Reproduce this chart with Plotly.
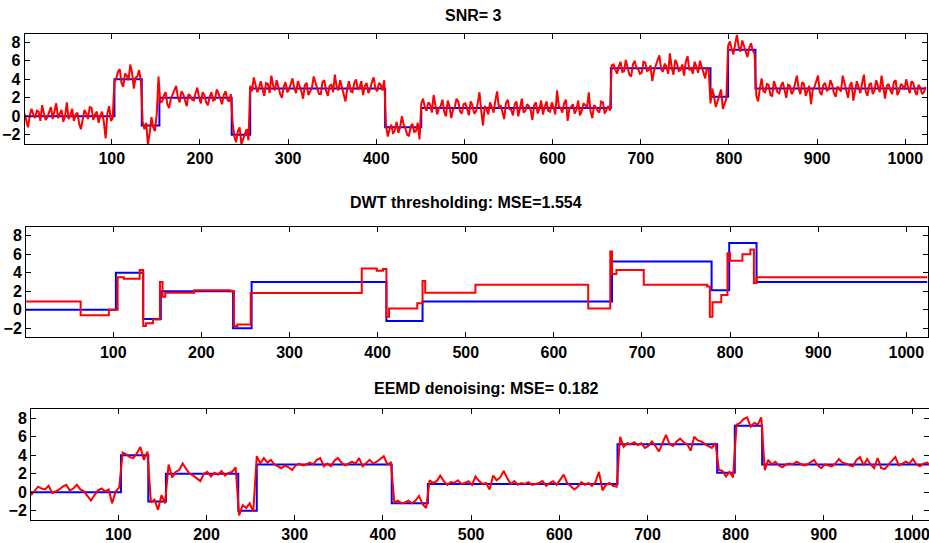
import plotly.graph_objects as go

# ---------------- data ----------------
# true (blocks) signal: start index of each constant level, and its level
blocks_x = [1, 103, 134, 154, 236, 257, 410, 451, 666, 779, 799, 830, 1024]
blocks_y = [0, 4, -1, 2, -2, 3, -1.2, 0.9, 5.2, 2.1, 7.2, 3.0, 3.0]

# sample positions: noisy curve every 2nd sample, EEMD curve every 4th sample
noisy_x = list(range(1, 1024, 2))
eemd_x = list(range(1, 1024, 4))

# noisy observation, SNR = 3
noisy_y = [
    # level 0
    0.3, -0.4, -1.2, 0.1, 0.8, 0.2, -0.2, 0.6, 0.5, -0.5, 1.2, 0.3, -0.4, -0.1, 0.6, 1.0,
    -0.3, 0.4, 1.4, -0.2, 0.2, 0.7, -0.6, 0.0, 1.5, -0.3, 0.1, 0.8, -0.5, 0.2, 0.4, -0.8,
    -1.4, -0.1, 0.7, 0.3, -0.3, 1.0, 0.9, -0.4, 0.2, 0.5, -0.7, 0.1, 0.5, -0.6, -2.4, 0.3,
    1.1, -0.5, -0.2, 3.7,
    # level 4
    4.1, 4.8, 5.1, 3.6, 3.2, 4.6, 4.4, 3.9, 5.6, 4.7, 3.0, 4.2, 4.3, 5.0, 3.8, -0.6,
    # level -1
    -1.4, -0.7, -3.1, -1.8, -0.1, -1.2, -1.6, 0.3, 4.3, 1.5,
    # level 2
    1.6, 2.2, 2.6, 1.3, 0.9, 1.9, 2.3, 2.8, 3.3, 2.0, 1.5, 2.7, 2.4, 1.6, 1.1, 2.4, 2.2, 1.8,
    1.7, 2.5, 3.1, 2.0, 1.4, 2.6, 2.3, 1.5, 1.2, 2.1, 2.6, 1.7, 1.8, 2.9, 2.5, 1.9, 1.3, 2.3,
    2.7, 1.8, 1.6, 2.4,
    # level -2
    -0.6, -2.2, -2.8, -1.6, -1.2, -3.0, -2.5, -1.8, -1.4, -2.6,
    # level 3
    3.3, 2.7, 4.2, 3.4, 2.6, 3.1, 3.8, 2.9, 2.2, 3.6, 3.5, 2.5, 4.4, 3.3, 2.8, 3.9, 3.1, 2.4,
    2.0, 3.2, 3.7, 2.6, 2.9, 3.5, 4.1, 3.0, 2.5, 3.8, 3.3, 2.7, 1.9, 3.4, 3.6, 2.3, 2.7, 3.1,
    4.3, 3.5, 3.0, 2.4, 2.4, 3.7, 3.9, 2.8, 2.2, 3.3, 3.4, 2.6, 4.5, 3.2, 2.8, 3.9, 3.2, 2.5,
    1.6, 3.0, 3.8, 2.7, 2.6, 3.6, 4.0, 2.9, 3.1, 3.8, 2.3, 3.3, 3.6, 2.5, 2.9, 3.7, 4.2, 3.0,
    2.7, 3.6, 3.4, 2.8, 3.9, -1.0,
    # level -1.2
    -2.2, -1.4, -0.9, -1.9, -1.5, -0.6, -1.8, -1.2, 0.0, -0.9, -1.3, -2.0, -2.1, -1.1, -0.8,
    -1.7, -1.6, -0.7, -2.5, 1.4,
    # level 0.9
    1.9, 1.0, 0.6, 1.5, 1.3, 0.4, 2.3, 1.2, 0.2, 0.9, 1.1, 1.8, 0.5, 0.0, 1.7, 1.1, -0.2, 0.7,
    1.0, 1.9, 1.6, 0.5, 0.3, 1.3, 1.4, 0.8, 0.1, 1.6, 1.2, 0.3, 0.5, 1.4, 2.6, 0.6, -1.0, 1.1,
    0.8, 0.2, 1.5, 1.0, 0.4, 1.7, 2.7, 0.9, 1.2, 0.5, -0.3, 1.4, 1.8, 0.8, 0.7, 0.1, 1.3, 1.6,
    0.0, 0.9, 1.9, 0.4, 0.6, 1.3, 1.1, 0.7, -0.4, 1.2, 1.5, 0.3, 0.8, 1.7, 0.2, 1.0, 1.6, 0.6,
    0.5, 1.5, 1.0, 0.2, 2.8, 1.1, 0.9, 0.4, 1.4, 1.8, -0.5, 0.8, 1.0, 1.3, 0.3, 0.7, 1.7, 0.1,
    0.6, 1.4, 1.2, 0.9, 2.6, 0.5, -0.2, 1.2, 1.0, 0.6, 0.4, 1.6, 1.5, 0.3, 0.7, 1.1, 0.6, 5.5,
    # level 5.2
    5.6, 5.0, 4.6, 5.4, 5.9, 4.8, 4.9, 6.1, 5.3, 4.5, 4.3, 5.6, 6.0, 5.2, 5.1, 4.6, 4.7, 5.9,
    5.8, 4.9, 5.0, 5.5, 3.8, 4.9, 5.5, 6.0, 6.6, 5.1, 4.8, 5.7, 5.4, 4.6, 6.8, 5.3, 4.5, 6.1,
    5.7, 4.9, 5.0, 5.6, 4.4, 5.9, 6.5, 5.0, 5.2, 4.6, 5.9, 5.4, 4.7, 6.0, 5.4, 4.8, 4.1, 5.3,
    5.0, 1.4,
    # level 2.1
    3.0, 2.2, 1.0, 1.6, 2.4, 2.9, 0.8, 1.5, 1.9, 7.6,
    # level 7.2
    8.1, 7.3, 6.7, 7.8, 8.8, 7.5, 7.0, 8.2, 7.6, 6.9, 6.4, 7.4, 7.9, 7.1, 6.8, 2.2,
    # level 3
    1.6, 3.0, 4.1, 2.7, 2.6, 3.5, 3.4, 2.3, 2.2, 3.8, 3.1, 2.6, 2.5, 3.3, 3.7, 2.9, 2.0, 3.4,
    3.3, 2.4, 2.7, 3.6, 4.4, 3.0, 2.4, 3.7, 3.5, 2.2, 2.8, 3.3, 1.3, 2.9, 3.2, 3.8, 4.4, 2.6,
    2.3, 3.4, 3.6, 2.8, 2.9, 3.9, 3.4, 2.5, 2.1, 3.2, 3.0, 2.7, 4.4, 3.5, 2.6, 2.0, 3.3, 3.7,
    1.7, 2.9, 3.8, 3.1, 2.5, 3.6, 4.5, 2.7, 2.2, 3.4, 3.6, 2.4, 2.8, 3.9, 3.2, 2.6, 4.4, 3.1,
    1.9, 3.3, 3.5, 2.8, 2.4, 3.7, 3.9, 2.3, 2.7, 3.5, 3.3, 2.9, 4.0, 3.2, 2.5, 3.8, 3.6, 2.7,
    2.3, 3.4, 3.1, 2.4, 2.6, 3.2,
]

# DWT thresholding estimate (piecewise constant): start index and level
dwt_x = [1, 63, 95, 105, 112, 130, 134, 137, 145, 153, 156, 159, 192, 233, 237, 241, 256,
         382, 399, 406, 410, 413, 445, 451, 454, 511, 639, 664, 666, 671, 702, 774, 777,
         780, 790, 797, 800, 814, 823, 827, 830, 1024]
dwt_y = [0.9, -0.6, 0.0, 3.5, 3.35, 4.3, -1.75, -1.45, -1.05, 3.0, 1.4, 1.85, 2.1, 2.0, -1.75,
         -1.6, 1.8, 4.45, 4.2, 4.4, -0.75, 0.15, 0.7, 3.1, 1.85, 2.7, 0.15, 6.3, 3.85, 4.3,
         2.7, 2.5, -0.75, 0.8, 1.6, 6.1, 5.3, 6.0, 6.5, 2.9, 3.5, 3.5]

# EEMD denoising estimate
eemd_y = [
    # level 0
    -0.3, 0.1, 0.6, 0.4, 0.3, 0.7, -0.1, 0.1, 0.3, 0.6, 0.8, 0.2, 0.4, 0.8, 0.3, 0.1, -0.4,
    -0.9, -0.3, 0.2, 0.4, 0.1, 0.3, -1.2, 0.1, 0.5,
    # level 4
    4.3, 4.1, 3.8, 3.7, 4.2, 4.9, 3.5, 4.4,
    # level -1
    -1.1, -0.8, -1.9, -0.3, -1.2,
    # level 2
    3.0, 1.6, 2.2, 2.4, 3.1, 2.5, 2.0, 1.8, 1.5, 1.2, 2.0, 2.2, 1.7, 2.1, 1.9, 2.3, 1.8, 2.1, 2.2, 2.7,
    # level -2
    -2.5, -1.4, -1.7, -1.2, -2.1,
    # level 3
    3.9, 3.1, 3.7, 3.2, 3.5, 3.0, 2.8, 2.6, 2.9, 2.7, 2.4, 2.9, 3.1, 2.9, 3.0, 3.2, 3.0, 3.5,
    3.7, 2.8, 3.1, 2.8, 3.4, 3.7, 3.2, 2.9, 3.1, 3.3, 3.1, 3.7, 2.8, 3.2, 3.5, 3.1, 3.3, 3.6,
    3.9, 3.0, 3.2,
    # level -1.2
    -1.1, -0.9, -1.2, -1.1, -0.9, -1.2, -0.9, -0.4, -1.3, -1.7,
    # level 0.9
    1.3, 1.0, 1.2, 1.8, 1.2, 0.8, 1.1, 1.0, 1.3, 0.9, 1.0, 1.2, 0.8, 1.7, 1.2, 0.9, 1.0, 0.3,
    1.8, 1.3, 1.6, 2.3, 1.5, 0.9, 1.2, 0.8, 1.0, 0.9, 1.1, 0.8, 0.9, 1.0, 1.2, 0.7, 1.0, 1.2,
    0.8, 1.3, 1.9, 1.0, 0.7, 0.3, 0.6, 1.1, 0.8, 1.0, 0.7, 1.1, 2.2, 0.2, 0.8, 1.0, 0.7, 0.6,
    # level 5.2
    6.0, 4.9, 5.3, 5.2, 5.4, 5.1, 5.3, 4.8, 5.0, 5.5, 5.0, 4.4, 5.3, 6.2, 5.2, 5.0, 5.5, 5.8,
    5.4, 5.2, 4.5, 6.0, 5.6, 5.5, 5.2, 5.0, 4.8, 5.3,
    # level 2.1
    2.4, 2.3, 1.7, 2.2, 1.6,
    # level 7.2
    7.3, 7.5, 7.9, 8.1, 7.1, 7.5, 7.3, 8.1,
    # level 3
    2.4, 3.5, 3.0, 3.3, 2.9, 2.7, 3.0, 3.1, 3.0, 3.3, 3.1, 2.9, 3.0, 3.3, 3.5, 2.9, 2.6, 3.0,
    2.9, 2.8, 3.1, 3.6, 3.2, 3.1, 2.9, 2.8, 3.5, 3.8, 2.9, 3.6, 3.0, 2.6, 3.7, 2.6, 2.5, 3.0,
    3.4, 3.8, 2.9, 3.1, 3.3, 3.1, 3.6, 3.0, 2.8, 3.1, 3.2, 2.9,
]

assert len(noisy_y) == len(noisy_x), len(noisy_y)
assert len(eemd_y) == len(eemd_x), len(eemd_y)

titles = ["SNR= 3", "DWT thresholding: MSE=1.554", "EEMD denoising: MSE= 0.182"]
x_ticks = [100, 200, 300, 400, 500, 600, 700, 800, 900, 1000]
y_ticks = [-2, 0, 2, 4, 6, 8]

# ---------------- figure ----------------
W, H = 929, 543
BLUE, RED = "#0000FF", "#FF0000"

fig = go.Figure()

# panel geometry in pixels: (left, right, top, bottom), x range, y range
panels = [
    (24.5, 926.5, 34.3, 144.0, [1, 1024], [-3.0, 8.87]),
    (26.0, 927.5, 227.3, 337.3, [1, 1024], [-2.97, 8.9]),
    (31.0, 929.0, 409.0, 520.0, [1, 1019.2], [-3.0, 9.0]),
]

red_series = [(noisy_x, noisy_y, "linear"), (dwt_x, dwt_y, "hv"), (eemd_x, eemd_y, "linear")]

for i, (l, r, t, b, xr, yr) in enumerate(panels):
    n = "" if i == 0 else str(i + 1)
    fig.add_trace(go.Scatter(x=blocks_x, y=blocks_y, mode="lines",
                             line=dict(color=BLUE, width=2, shape="hv"),
                             xaxis="x" + n, yaxis="y" + n, showlegend=False))
    rx, ry, shp = red_series[i]
    fig.add_trace(go.Scatter(x=rx, y=ry, mode="lines",
                             line=dict(color=RED, width=2, shape=shp),
                             xaxis="x" + n, yaxis="y" + n, showlegend=False))
    tickfont = dict(family="Liberation Sans, Arial, sans-serif", size=16, color="black",
                    weight="bold")
    common = dict(showline=True, linecolor="black", linewidth=1, mirror="ticks",
                  ticks="inside", ticklen=5, tickwidth=1, tickcolor="black",
                  showgrid=False, zeroline=False, tickfont=tickfont,
                  ticklabeloverflow="allow")
    fig.layout["xaxis" + n] = dict(domain=[l / W, r / W], range=xr, anchor="y" + n,
                                   tickvals=x_ticks, **common)
    fig.layout["yaxis" + n] = dict(domain=[1 - b / H, 1 - t / H], range=yr, anchor="x" + n,
                                   tickvals=y_ticks, **common)

title_pos = [(474, 15.0), (465.5, 202.8), (486, 388.5)]
for (cx, cy), txt in zip(title_pos, titles):
    fig.add_annotation(text="<b>" + txt + "</b>", x=cx / W, y=1 - cy / H, xref="paper",
                       yref="paper", xanchor="center", yanchor="middle", showarrow=False,
                       font=dict(family="Liberation Sans, Arial, sans-serif", size=16,
                                 color="black"))

fig.update_layout(width=W, height=H, autosize=False,
                  margin=dict(l=0, r=0, t=0, b=0, pad=0),
                  paper_bgcolor="white", plot_bgcolor="white")

fig.write_html("out.html",
               config={"displayModeBar": False},
               post_script="document.body.style.margin='0px';"
                           "document.body.style.overflow='hidden';")
